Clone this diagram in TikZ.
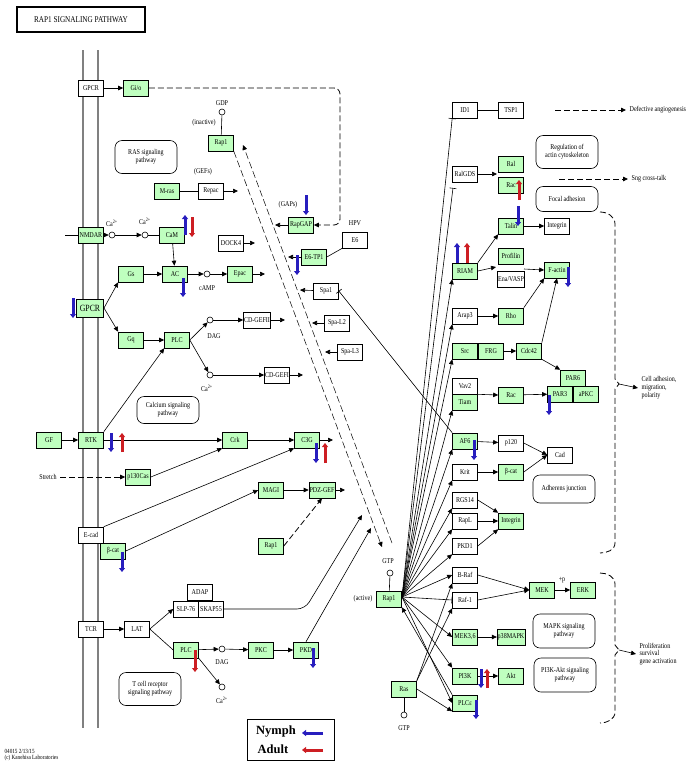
\documentclass[tikz,border=0pt]{standalone}
\usepackage{fontspec}
\setmainfont{Liberation Serif}
\newfontfamily\kfont{Liberation Serif}[FakeStretch=0.82]
\usetikzlibrary{arrows.meta}
\definecolor{kgreen}{RGB}{191,255,191}
\definecolor{kblue}{RGB}{40,30,190}
\definecolor{kred}{RGB}{205,30,35}
\begin{document}
\begin{tikzpicture}[x=1pt,y=-1pt, line width=0.6pt,
    every node/.style={font=\kfont\fontsize{7.4}{7.8}\selectfont},
    gene/.style={draw, fill=kgreen, minimum width=25pt, minimum height=16pt, inner sep=0.5pt},
    ortho/.style={draw, fill=white, minimum width=25pt, minimum height=16pt, inner sep=0.5pt},
    pathbox/.style={draw, fill=white, rounded corners=7pt, align=center, minimum width=62pt, minimum height=33pt},
    cpd/.style={draw, circle, fill=white, inner sep=0pt, minimum size=6pt},
    act/.style={-{Triangle[length=5pt,width=4.5pt]}},
    inh/.style={-{Bar[width=7pt]}},
    kdash/.style={dash pattern=on 6pt off 3pt, line width=0.8pt},
    thindash/.style={dash pattern=on 7pt off 3pt, line width=0.5pt},
    nymph/.style={draw=kblue, line width=3pt, -{Triangle[length=4pt,width=6pt]}},
    adult/.style={draw=kred, line width=3pt, -{Triangle[length=4pt,width=6pt]}}]
    \useasboundingbox (0,0) rectangle (691,772);
    \node[draw, line width=1.2pt, minimum width=128pt, minimum height=25pt, font=\kfont\fontsize{8.8}{9}\selectfont] (title) at (81,19.5) {RAP1 SIGNALING PATHWAY};
    % cell membrane
    \draw[line width=2.6pt, color=gray] (83,50) -- (83,728);
    \draw[line width=2.6pt, color=gray] (98,50) -- (98,728);

    % left half
    \node[ortho] (gpcrA) at (91,88) {GPCR};
    \node[gene] (gio) at (136,88) {Gi/o};
    \node[gene] (rapA) at (221,143) {Rap1};
    \node[cpd] (gdp) at (222,112) {};
    \node (gdplbl) at (222,103) {GDP};
    \node (inactive) at (204,123) {(inactive)};
    \node[pathbox] (raspw) at (146,157) {RAS signaling\\pathway};
    \node (gefs) at (203,172) {(GEFs)};
    \node[gene] (mras) at (167,191) {M-ras};
    \node[ortho] (repac) at (211,191) {Repac};
    \node[gene] (nmdar) at (91,235) {NMDAR};
    \node[cpd] (caA) at (112,235) {};
    \node (caAlbl) at (112,223) {Ca\textsuperscript{2+}};
    \node[cpd] (caB) at (145,235) {};
    \node (caBlbl) at (145,221) {Ca\textsuperscript{2+}};
    \node[gene] (cam) at (172,235) {CaM};
    \node[ortho] (dock) at (231,243) {DOCK4};
    \node (gaps) at (288,205) {(GAPs)};
    \node[gene] (rapgap) at (301,225) {RapGAP};
    \node (hpv) at (355,223) {HPV};
    \node[ortho] (esix) at (355,240) {E6};
    \node[gene] (etp) at (314,257) {E6-TP1};
    \node[ortho] (spa) at (326,291) {Spa1};
    \node[ortho] (spaLtwo) at (337,323) {Spa-L2};
    \node[ortho] (spaLthree) at (350,352) {Spa-L3};
    \node[gene] (gs) at (131,274) {Gs};
    \node[gene] (ac) at (175,274) {AC};
    \node[cpd] (camp) at (207,274) {};
    \node (camplbl) at (207,288) {cAMP};
    \node[gene] (epac) at (240,274) {Epac};
    \node[gene, line width=1pt, minimum width=27pt, minimum height=18pt, font=\kfont\fontsize{9.5}{10}\selectfont] (gpcrB) at (90,308) {GPCR};
    \node[gene] (gq) at (131,340) {Gq};
    \node[gene] (plcA) at (177,340) {PLC};
    \node[cpd] (dag) at (210,320) {};
    \node (daglbl) at (214,336) {DAG};
    \node[ortho] (cdgefII) at (257,320) {CD-GEFII};
    \node[cpd] (caC) at (210,375) {};
    \node (caClbl) at (207,388) {Ca\textsuperscript{2+}};
    \node[ortho] (cdgefI) at (277,375) {CD-GEFI};
    \node[pathbox, minimum height=27pt] (capw) at (168,410) {Calcium signaling\\pathway};
    \node[gene] (gf) at (49,440) {GF};
    \node[gene] (rtk) at (91,440) {RTK};
    \node[gene] (crk) at (235,440) {Crk};
    \node[gene] (cthreeg) at (307,440) {C3G};
    \node (stretch) at (48,477) {Stretch};
    \node[gene] (pcas) at (138,477) {p130Cas};
    \node[gene] (magi) at (271,490) {MAGI};
    \node[gene] (pdzgef) at (322,490) {PDZ-GEF};
    \node[ortho] (ecad) at (91,535) {E-cad};
    \node[gene] (bcatA) at (113,551) {β-cat};
    \node[gene] (rapC) at (271,546) {Rap1};
    \node[ortho] (adap) at (200,592) {ADAP};
    \node[ortho] (slp) at (186,609) {SLP-76};
    \node[ortho] (skap) at (211,609) {SKAP55};
    \node[ortho] (tcr) at (91,629) {TCR};
    \node[ortho] (lat) at (137,629) {LAT};
    \node[gene] (plcB) at (186,650) {PLC};
    \node[cpd] (dagB) at (222,649) {};
    \node (dagBlbl) at (222,662) {DAG};
    \node[cpd] (caD) at (222,687) {};
    \node (caDlbl) at (222,700) {Ca\textsuperscript{2+}};
    \node[gene] (pkc) at (261,650) {PKC};
    \node[gene] (pkd) at (306,650) {PKD};
    \node[pathbox] (tcpw) at (150,689) {T cell receptor\\signaling pathway};

    % right half
    \node[gene] (rapB) at (389,599) {Rap1};
    \node (active) at (363,599) {(active)};
    \node[cpd] (gtpA) at (390,573) {};
    \node (gtpAlbl) at (388,561) {GTP};
    \node[gene] (ras) at (404,689) {Ras};
    \node[cpd] (gtpB) at (404,715) {};
    \node (gtpBlbl) at (404,728) {GTP};
    \node[ortho] (idone) at (465,110) {ID1};
    \node[ortho] (tsp) at (511,110) {TSP1};
    \node[ortho] (ralgds) at (465,174) {RalGDS};
    \node[gene] (ral) at (511,164) {Ral};
    \node[gene] (racA) at (511,185) {Rac};
    \node[pathbox] (regpw) at (567,152) {Regulation of\\actin cytoskeleton};
    \node[pathbox, minimum height=25pt] (focpw) at (567,199) {Focal adhesion};
    \node[gene] (talin) at (511,226) {Talin};
    \node[ortho] (integA) at (557,226) {Integrin};
    \node[gene] (riam) at (465,271) {RIAM};
    \node[gene] (profilin) at (511,256) {Profilin};
    \node[ortho] (enavasp) at (511,279) {Ena/VASP};
    \node[gene] (factin) at (557,270) {F-actin};
    \node[ortho] (arap) at (465,316) {Arap3};
    \node[gene] (rho) at (511,316) {Rho};
    \node[gene] (src) at (465,351) {Src};
    \node[gene] (frg) at (491,351) {FRG};
    \node[gene] (cdc) at (529,351) {Cdc42};
    \node[gene] (par6) at (573,378) {PAR6};
    \node[gene] (par3) at (560,394) {PAR3};
    \node[gene] (apkc) at (586,394) {aPKC};
    \node[ortho] (vav) at (465,386) {Vav2};
    \node[gene] (tiam) at (465,402) {Tiam};
    \node[gene] (racB) at (511,395) {Rac};
    \node[gene] (afsix) at (465,441) {AF6};
    \node[ortho] (ponetwenty) at (511,443) {p120};
    \node[ortho] (cad) at (560,455) {Cad};
    \node[ortho] (krit) at (465,472) {Krit};
    \node[gene] (bcatB) at (511,472) {β-cat};
    \node[pathbox, minimum height=28pt] (adhpw) at (564,489) {Adherens junction};
    \node[ortho] (rgs) at (465,500) {RGS14};
    \node[ortho] (rapl) at (465,521) {RapL};
    \node[gene] (integB) at (511,521) {Integrin};
    \node[ortho] (pkdone) at (465,546) {PKD1};
    \node[ortho] (braf) at (465,575) {B-Raf};
    \node[ortho] (rafone) at (465,600) {Raf-1};
    \node[gene] (mek) at (542,590) {MEK};
    \node[gene] (erk) at (583,590) {ERK};
    \node (plusp) at (562,580) {+p};
    \node[gene] (mekthree) at (465,637) {MEK3,6};
    \node[gene] (ptmapk) at (511,637) {p38MAPK};
    \node[pathbox, minimum height=34pt] (mapkpw) at (564,631) {MAPK signaling\\pathway};
    \node[gene] (pik) at (465,676) {PI3K};
    \node[gene] (akt) at (511,676) {Akt};
    \node[pathbox, minimum height=34pt] (pikpw) at (565,675) {PI3K-Akt signaling\\pathway};
    \node[gene] (plce) at (465,703) {PLCε};
    \node[anchor=west] (angio) at (626,110) {Defective angiogenesis};
    \node[anchor=west] (sng) at (628,179) {Sng cross-talk};
    \node[anchor=west, align=left] (celladh) at (638,388) {Cell adhesion,\\migration,\\polarity};
    \node[anchor=west, align=left] (prolif) at (636,654) {Proliferation\\survival\\gene activation};

    % free ends
    \coordinate (repacT) at (238,191);
    \coordinate (dockT) at (255,243);
    \coordinate (nmdarL) at (65,235);
    \coordinate (rapgapT) at (275,225);
    \coordinate (etpT) at (288,257);
    \coordinate (spaT) at (300,290);
    \coordinate (spaLtwoT) at (312,323);
    \coordinate (spaLthreeT) at (325,352);
    \coordinate (epacT) at (265,274);
    \coordinate (cdgefIIT) at (285,320);
    \coordinate (cdgefIT) at (303,375);
    \coordinate (cthreegT) at (333,440);
    \coordinate (pdzgefT) at (345,490);
    \coordinate (skapT) at (362,515);
    \coordinate (pkdT) at (371,528);
    \coordinate (actIn) at (382,547);
    \coordinate (actOut) at (392,543);
    \coordinate (inactIn) at (243,145);
    \coordinate (fan) at (402,597);
    \coordinate (ralgdsT) at (453,188);
    \coordinate (ralT) at (497,174);
    \coordinate (profT) at (496,267);
    \coordinate (profS) at (524,269);
    \coordinate (angioS) at (555,110);
    \coordinate (sngS) at (559,179);

    % left edges
    \draw[act] (gpcrA) -- (gio);
    \draw[kdash, act, rounded corners=6pt] (gio.east) -- (340,88) -- (340,225) -- (rapgap.east);
    \draw (gdp) -- (rapA);
    \draw[inh] (mras) -- (repac);
    \draw[act] (repac) -- (repacT);
    \draw (nmdarL) -- (nmdar);
    \draw[act] (nmdar) -- (caA);
    \draw[act] (caA) -- (caB);
    \draw (caB) -- (cam);
    \draw[act] (cam) -- (ac);
    \draw[act] (dock) -- (dockT);
    \draw[act] (rapgap) -- (rapgapT);
    \draw (esix.south west) -- (etp.east);
    \draw[act] (etp) -- (etpT);
    \draw[act] (spa) -- (spaT);
    \draw[act] (spaLtwo) -- (spaLtwoT);
    \draw[act] (spaLthree) -- (spaLthreeT);
    \draw[inh] (afsix.north west) -- (spa.east);
    \draw[act] (gs) -- (ac);
    \draw[act] (ac) -- (camp);
    \draw[act] (camp) -- (epac);
    \draw[act] (epac) -- (epacT);
    \draw[act] (gpcrB.east) -- (gs.south west);
    \draw[act] (gpcrB.east) -- (gq.north west);
    \draw[act] (gq) -- (plcA);
    \draw[act] (plcA.east) -- (dag);
    \draw[act] (dag) -- (cdgefII);
    \draw[act] (cdgefII) -- (cdgefIIT);
    \draw[act] (plcA.east) -- (caC);
    \draw[act] (caC) -- (cdgefI);
    \draw[act] (cdgefI) -- (cdgefIT);
    \draw[act] (gf) -- (rtk);
    \draw[act] (rtk.north east) -- (plcA.south west);
    \draw[act] (rtk) -- (crk);
    \draw[act] (crk) -- (cthreeg);
    \draw[act] (cthreeg) -- (cthreegT);
    \draw[kdash, act] (stretch) -- (pcas);
    \draw[act] (pcas.east) -- (crk.south west);
    \draw[act] (ecad.north east) -- (cthreeg.south west);
    \draw[act] (bcatA.east) -- (magi.west);
    \draw[act] (magi) -- (pdzgef);
    \draw[act] (pdzgef) -- (pdzgefT);
    \draw[kdash, act] (rapC.east) -- (pdzgef.south);
    \draw[act] (tcr) -- (lat);
    \draw[act] (lat.east) -- (slp.west);
    \draw (lat.east) -- (plcB.west);
    \draw[act, rounded corners=8pt] (skap.east) -- (305,609) -- (skapT);
    \draw[act] (pkd.north) -- (pkdT);
    \draw[act] (plcB) -- (dagB);
    \draw[act] (dagB) -- (pkc);
    \draw[act] (pkc) -- (pkd);
    \draw[act] (plcB.south east) -- (caD);
    % Rap1 cycle
    \draw[thindash, act] (rapA.south east) -- (actIn);
    \draw[thindash, act] (actOut) -- (inactIn);

    % right edges
    \draw (gtpA) -- (rapB);
    \draw (gtpB) -- (ras);
    \draw[inh] (fan) -- (idone.south west);
    \draw[inh] (fan) -- (ralgdsT);
    \draw[act] (fan) -- (riam.south west);
    \draw[act] (fan) -- (arap.south west);
    \draw[act] (fan) -- (src.south west);
    \draw[act] (fan) -- (tiam.south west);
    \draw[act] (fan) -- (afsix.south west);
    \draw[act] (fan) -- (krit.south west);
    \draw[act] (fan) -- (rgs.south west);
    \draw[act] (fan) -- (rapl.south west);
    \draw[act] (fan) -- (pkdone.south west);
    \draw[act] (fan) -- (braf.west);
    \draw[inh] (fan) -- (rafone.west);
    \draw[act] (fan) -- (mekthree.west);
    \draw[act] (fan) -- (pik.north west);
    \draw[act] (fan) -- (plce.west);
    \draw[act] (plce.north west) -- (rapB.south east);
    \draw[act] (ras.north east) -- (braf.south west);
    \draw[act] (ras.north east) -- (rafone.south west);
    \draw[act] (ras.east) -- (plce.south west);
    \draw[inh] (idone) -- (tsp);
    \draw[kdash, act] (angioS) -- (angio.west);
    \draw[act] (ralgds.east) -- (ralT);
    \draw[kdash, act] (sngS) -- (sng.west);
    \draw[act] (talin) -- (integA);
    \draw[act] (riam.north east) -- (talin.south west);
    \draw[act] (riam.east) -- (profT);
    \draw[act] (profS) -- (factin.west);
    \draw[act] (arap) -- (rho);
    \draw[act] (rho.north east) -- (factin.south west);
    \draw[act] (frg) -- (cdc);
    \draw[act] (cdc.north east) -- (factin.south);
    \draw[act] (cdc.south east) -- (par6.north west);
    \draw[act] (vav.south east) -- (racB.west);
    \draw[act] (racB) -- (par3);
    \draw[act] (afsix) -- (ponetwenty);
    \draw[act] (ponetwenty.east) -- (cad.west);
    \draw[act] (krit) -- (bcatB);
    \draw[act] (bcatB.east) -- (cad.west);
    \draw[act] (rgs.east) -- (integB.north west);
    \draw[act] (rapl) -- (integB);
    \draw[act] (pkdone.east) -- (integB.south west);
    \draw[act] (braf.east) -- (mek.west);
    \draw[act] (rafone.east) -- (mek.west);
    \draw[act] (mek) -- (erk);
    \draw[act] (mekthree) -- (ptmapk);
    \draw[act] (pik) -- (akt);
    % outcome brackets
    \draw[kdash] (600,212) to[out=0,in=90] (615,224) -- (615,379) -- (619,384) -- (615,389) -- (615,543) to[out=-90,in=0] (600,553);
    \draw[act] (619,384) -- (celladh.west);
    \draw[kdash] (600,573) to[out=0,in=90] (615,584) -- (615,645) -- (619,650) -- (615,655) -- (615,712) to[out=-90,in=0] (600,723);
    \draw[act] (619,650) -- (prolif.west);

    % expression changes
    \draw[nymph] (185,235) -- (185,215);
    \draw[adult] (192,217) -- (192,237);
    \draw[nymph] (306,195) -- (306,215);
    \draw[nymph] (297,255) -- (297,275);
    \draw[nymph] (183,278) -- (183,297);
    \draw[nymph] (73,298) -- (73,318);
    \draw[nymph] (111,433) -- (111,452);
    \draw[adult] (122,452) -- (122,433);
    \draw[nymph] (316,443) -- (316,463);
    \draw[adult] (325,463) -- (325,443);
    \draw[nymph] (122,552) -- (122,572);
    \draw[adult] (195,650) -- (195,672);
    \draw[nymph] (313,648) -- (313,668);
    \draw[adult] (519,200) -- (519,180);
    \draw[nymph] (518,206) -- (518,226);
    \draw[nymph] (457,263) -- (457,243);
    \draw[adult] (467,263) -- (467,243);
    \draw[nymph] (568,267) -- (568,287);
    \draw[nymph] (549,395) -- (549,415);
    \draw[nymph] (474,440) -- (474,460);
    \draw[nymph] (481,669) -- (481,688);
    \draw[adult] (487,688) -- (487,669);
    \draw[nymph] (476,700) -- (476,719);

    % legend and footer
    \node[draw, fill=white, line width=0.8pt, minimum width=87pt, minimum height=41pt] (legend) at (290.5,739.5) {};
    \node[font=\bfseries\fontsize{12.5}{13}\selectfont] (nymphlbl) at (276,732) {Nymph};
    \node[font=\bfseries\fontsize{12.5}{13}\selectfont] (adultlbl) at (273,749) {Adult};
    \draw[nymph] (323,733) -- (302,733);
    \draw[adult] (323,750) -- (302,750);
    \node[anchor=west, align=left, font=\kfont\fontsize{6.3}{6.8}\selectfont] (footer) at (1,755) {04015 2/13/15\\(c) Kanehisa Laboratories};
\end{tikzpicture}
\end{document}
